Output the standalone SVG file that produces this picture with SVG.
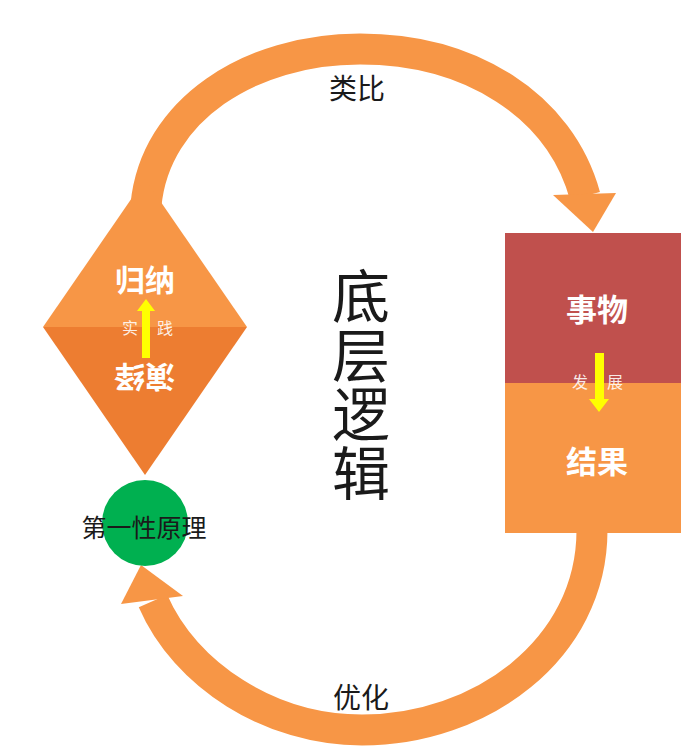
<svg xmlns="http://www.w3.org/2000/svg" width="681" height="747" viewBox="0 0 681 747">
  <style>
    .arc { fill: none; stroke: #F79646; stroke-width: 31; }
    .head { fill: #F79646; }
    .big { font-family: "Noto Sans CJK SC", "Noto Sans", sans-serif; font-weight: 700; fill: #FFFFFF; text-anchor: middle; }
    .small { font-family: "Noto Sans CJK SC", "Noto Sans", sans-serif; font-size: 16px; fill: #FFFFFF; fill-opacity: 0.88; text-anchor: middle; }
    .label { font-family: "Noto Sans CJK SC", "Noto Sans", sans-serif; fill: #1A1A1A; text-anchor: middle; }
    .yellow { fill: #FFFF00; }
  </style>
  <rect width="681" height="747" fill="#FFFFFF"/>

  <g id="connectors">
    <path class="arc" d="M146,205 C155,110 250,49 360,49 C470,49 560,105 585,196"/>
    <polygon class="head" points="553,195 616,193 593,232"/>
    <path class="arc" d="M592,530 C592,650 480,730 362,730 C270,730 185,675 153,601"/>
    <polygon class="head" points="121,604 183,596 141,565"/>
  </g>

  <g id="diamond">
    <polygon points="43,327 145,179 247,327" fill="#F79646"/>
    <polygon points="43,327 247,327 145,475" fill="#ED7D31"/>
    <text class="big" x="145" y="291" font-size="30">归纳</text>
    <text class="big" x="145" y="388" font-size="30" transform="rotate(180 145 377)">演绎</text>
    <rect class="yellow" x="142" y="310" width="8" height="48"/>
    <polygon class="yellow" points="137,311 155,311 146,299"/>
    <text class="small" x="130" y="334">实</text>
    <text class="small" x="165" y="334">践</text>
  </g>

  <g id="box">
    <rect x="505" y="233" width="176" height="150" fill="#C0504D"/>
    <rect x="505" y="383" width="176" height="150" fill="#F79646"/>
    <text class="big" x="597" y="321" font-size="31">事物</text>
    <text class="big" x="597" y="473" font-size="31">结果</text>
    <rect class="yellow" x="595" y="353" width="9" height="47"/>
    <polygon class="yellow" points="589,399 609,399 599,412"/>
    <text class="small" x="580" y="388">发</text>
    <text class="small" x="615" y="388">展</text>
  </g>

  <g id="principle">
    <circle cx="145" cy="523" r="43" fill="#00B050"/>
    <text class="label" x="144" y="537" font-size="25">第一性原理</text>
  </g>

  <g id="title">
    <text class="label" x="361" y="385" font-size="58" fill="#000000" writing-mode="tb" letter-spacing="1">底层逻辑</text>
  </g>

  <g id="labels">
    <text class="label" x="357" y="99" font-size="28">类比</text>
    <text class="label" x="361" y="708" font-size="28">优化</text>
  </g>
</svg>
